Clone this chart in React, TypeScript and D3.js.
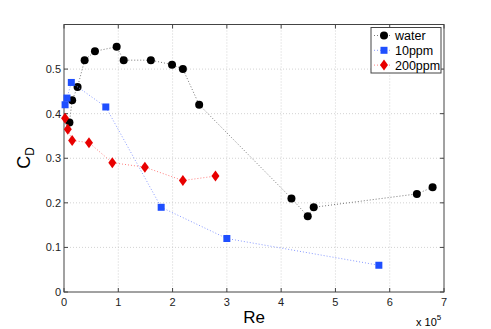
import React, { useEffect, useRef } from "react";
import * as d3 from "d3";

// Re values are in units of 1e5
const waterRe = [0.1, 0.15, 0.25, 0.38, 0.57, 0.97, 1.1, 1.6, 1.99, 2.19, 2.49, 4.19, 4.49, 4.6, 6.5, 6.79];
const waterCd = [0.38, 0.43, 0.46, 0.52, 0.54, 0.55, 0.52, 0.52, 0.51, 0.5, 0.42, 0.21, 0.17, 0.19, 0.22, 0.235];

const ppm10Re = [0.02, 0.055, 0.135, 0.77, 1.79, 3.0, 5.8];
const ppm10Cd = [0.42, 0.435, 0.47, 0.415, 0.19, 0.12, 0.06];

const ppm200Re = [0.02, 0.07, 0.15, 0.46, 0.89, 1.49, 2.19, 2.79];
const ppm200Cd = [0.39, 0.365, 0.34, 0.335, 0.29, 0.28, 0.25, 0.26];

const xTicks = [0, 1, 2, 3, 4, 5, 6, 7];
const yTicks = [0, 0.1, 0.2, 0.3, 0.4, 0.5];
const seriesNames = ["water", "10ppm", "200ppm"];

const App = () => {
  const ref = useRef<SVGSVGElement>(null);

  useEffect(() => {
    const svg = d3.select(ref.current);
    svg.selectAll("*").remove();

    const left = 64, right = 444, top = 24.5, bottom = 292;
    const x = d3.scaleLinear().domain([0, 7]).range([left, right]);
    const y = d3.scaleLinear().domain([0, 0.6]).range([bottom, top]);
    const font = "Liberation Sans, Arial, sans-serif";

    svg.append("rect").attr("width", 491).attr("height", 329).attr("fill", "#fff");

    // grid
    const grid = svg.append("g").attr("stroke", "#c8c8c8").attr("stroke-dasharray", "1,2").attr("stroke-width", 0.8);
    xTicks.slice(1, -1).forEach((t) => {
      grid.append("line").attr("x1", x(t)).attr("x2", x(t)).attr("y1", top).attr("y2", bottom);
    });
    yTicks.slice(1).forEach((t) => {
      grid.append("line").attr("x1", left).attr("x2", right).attr("y1", y(t)).attr("y2", y(t));
    });

    // axes box with inward ticks
    const axis = svg.append("g").attr("stroke", "#444").attr("stroke-width", 1);
    axis.append("rect").attr("x", left).attr("y", top).attr("width", right - left).attr("height", bottom - top).attr("fill", "none");
    xTicks.forEach((t) => {
      axis.append("line").attr("x1", x(t)).attr("x2", x(t)).attr("y1", bottom).attr("y2", bottom - 4);
      axis.append("line").attr("x1", x(t)).attr("x2", x(t)).attr("y1", top).attr("y2", top + 4);
    });
    yTicks.forEach((t) => {
      axis.append("line").attr("x1", left).attr("x2", left + 4).attr("y1", y(t)).attr("y2", y(t));
      axis.append("line").attr("x1", right).attr("x2", right - 4).attr("y1", y(t)).attr("y2", y(t));
    });

    const labels = svg.append("g").attr("font-family", font).attr("font-size", 11).attr("fill", "#222");
    xTicks.forEach((t) => {
      labels.append("text").attr("x", x(t)).attr("y", bottom + 14).attr("text-anchor", "middle").text(t);
    });
    yTicks.forEach((t) => {
      labels.append("text").attr("x", left - 3).attr("y", y(t) + 4).attr("text-anchor", "end").text(t === 0 ? "0" : t.toFixed(1));
    });

    // axis titles
    svg.append("text").attr("x", 254).attr("y", 323).attr("text-anchor", "middle")
      .attr("font-family", font).attr("font-size", 17).text("Re");
    const yl = svg.append("text").attr("transform", `translate(30,${158}) rotate(-90)`)
      .attr("text-anchor", "middle").attr("font-family", font).attr("font-size", 18);
    yl.append("tspan").text("C");
    yl.append("tspan").attr("font-size", 12).attr("dy", 4).text("D");
    const mult = svg.append("text").attr("x", 416).attr("y", 326).attr("font-family", font).attr("font-size", 11);
    mult.append("tspan").text("x 10");
    mult.append("tspan").attr("font-size", 8).attr("dy", -6).text("5");

    const line = d3.line<[number, number]>().x((d) => x(d[0])).y((d) => y(d[1]));

    const drawMarker = (g: any, kind: string, cx: number, cy: number, color: string) => {
      if (kind === "circle") {
        g.append("circle").attr("cx", cx).attr("cy", cy).attr("r", 4).attr("fill", color);
      } else if (kind === "square") {
        g.append("rect").attr("x", cx - 3.5).attr("y", cy - 3.5).attr("width", 7).attr("height", 7).attr("fill", color);
      } else {
        g.append("path").attr("d", `M${cx},${cy - 5.5}L${cx + 4},${cy}L${cx},${cy + 5.5}L${cx - 4},${cy}Z`).attr("fill", color);
      }
    };

    const series = [
      { re: waterRe, cd: waterCd, color: "#000", lineColor: "#777", kind: "circle" },
      { re: ppm10Re, cd: ppm10Cd, color: "#1f4fff", lineColor: "#8a9cff", kind: "square" },
      { re: ppm200Re, cd: ppm200Cd, color: "#e80000", lineColor: "#ff8080", kind: "diamond" },
    ];

    series.forEach((s) => {
      const pts = s.re.map((r, i) => [r, s.cd[i]] as [number, number]);
      svg.append("path").attr("d", line(pts)).attr("fill", "none").attr("stroke", s.lineColor)
        .attr("stroke-width", 1).attr("stroke-dasharray", "1,2");
      const g = svg.append("g");
      pts.forEach((p) => drawMarker(g, s.kind, x(p[0]), y(p[1]), s.color));
    });

    // legend
    const lg = svg.append("g");
    lg.append("rect").attr("x", 371).attr("y", 27.5).attr("width", 70).attr("height", 45.5)
      .attr("fill", "#fff").attr("stroke", "#444").attr("stroke-width", 1);
    series.forEach((s, i) => {
      const ly = 35.5 + i * 14.8;
      lg.append("line").attr("x1", 374).attr("x2", 392).attr("y1", ly).attr("y2", ly)
        .attr("stroke", s.lineColor).attr("stroke-dasharray", "1,2");
      drawMarker(lg, s.kind, 384, ly, s.color);
      lg.append("text").attr("x", 395).attr("y", ly + 4.5).attr("font-family", font).attr("font-size", 12.5)
        .text(seriesNames[i]);
    });
  }, []);

  return <svg ref={ref} width={491} height={329} style={{ display: "block", position: "absolute", left: 0, top: 0 }} />;
};

export default App;
